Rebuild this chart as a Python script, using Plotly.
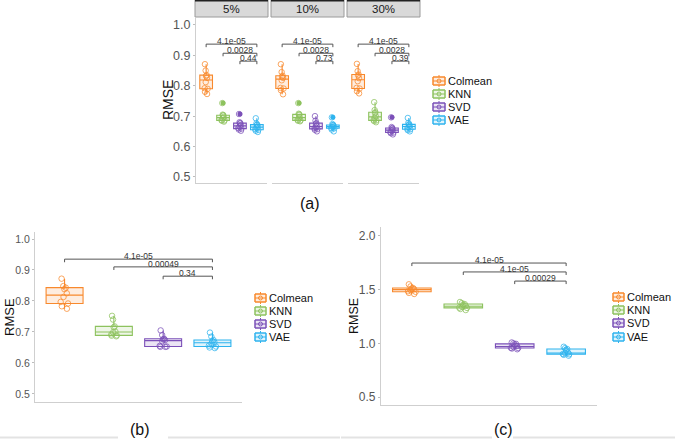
import plotly.graph_objects as go

# ---------------- data ----------------
methods = ["Colmean", "KNN", "SVD", "VAE"]
facets = ["5%", "10%", "30%"]
panel_labels = ["(a)", "(b)", "(c)"]

# panel (a), 5% missing
a5_colmean = [0.773, 0.780, 0.790, 0.792, 0.812, 0.826, 0.832, 0.835, 0.850, 0.871]
a5_knn = [0.682, 0.685, 0.686, 0.687, 0.693, 0.697, 0.702, 0.703, 0.705, 0.743]
a5_svd = [0.652, 0.656, 0.659, 0.661, 0.666, 0.670, 0.676, 0.677, 0.680, 0.707]
a5_vae = [0.648, 0.652, 0.655, 0.657, 0.662, 0.666, 0.671, 0.672, 0.676, 0.693]
# panel (a), 10% missing
a10_colmean = [0.772, 0.785, 0.791, 0.793, 0.818, 0.826, 0.830, 0.833, 0.845, 0.871]
a10_knn = [0.683, 0.685, 0.686, 0.688, 0.693, 0.697, 0.704, 0.706, 0.708, 0.743]
a10_svd = [0.650, 0.655, 0.658, 0.660, 0.664, 0.668, 0.675, 0.677, 0.685, 0.700]
a10_vae = [0.650, 0.656, 0.660, 0.661, 0.664, 0.667, 0.670, 0.671, 0.674, 0.696]
# panel (a), 30% missing
a30_colmean = [0.775, 0.782, 0.791, 0.793, 0.815, 0.825, 0.834, 0.837, 0.848, 0.872]
a30_knn = [0.680, 0.684, 0.686, 0.688, 0.695, 0.700, 0.710, 0.713, 0.720, 0.746]
a30_svd = [0.640, 0.644, 0.646, 0.648, 0.652, 0.656, 0.659, 0.661, 0.664, 0.696]
a30_vae = [0.650, 0.654, 0.657, 0.659, 0.664, 0.668, 0.672, 0.673, 0.678, 0.694]
# panel (b)
b_colmean = [0.775, 0.783, 0.792, 0.797, 0.813, 0.825, 0.838, 0.843, 0.848, 0.872]
b_knn = [0.686, 0.688, 0.689, 0.692, 0.699, 0.701, 0.715, 0.718, 0.740, 0.752]
b_svd = [0.652, 0.652, 0.653, 0.655, 0.670, 0.674, 0.676, 0.678, 0.690, 0.705]
b_vae = [0.648, 0.650, 0.653, 0.656, 0.663, 0.667, 0.671, 0.674, 0.685, 0.698]
# panel (c)
c_colmean = [1.460, 1.470, 1.480, 1.485, 1.495, 1.505, 1.510, 1.515, 1.530, 1.550]
c_knn = [1.310, 1.320, 1.330, 1.332, 1.340, 1.350, 1.362, 1.366, 1.375, 1.385]
c_svd = [0.945, 0.952, 0.956, 0.958, 0.965, 0.975, 0.990, 0.995, 1.000, 1.008]
c_vae = [0.885, 0.893, 0.898, 0.901, 0.907, 0.913, 0.940, 0.947, 0.955, 0.968]

comparisons = [(0, 3), (1, 3), (2, 3)]
pvals_a5 = ["4.1e-05", "0.0028", "0.44"]
pvals_a10 = ["4.1e-05", "0.0028", "0.73"]
pvals_a30 = ["4.1e-05", "0.0028", "0.39"]
pvals_b = ["4.1e-05", "0.00049", "0.34"]
pvals_c = ["4.1e-05", "4.1e-05", "0.00029"]

ticks_ab = [0.5, 0.6, 0.7, 0.8, 0.9, 1.0]
ticks_c = [0.5, 1.0, 1.5, 2.0]

# ---------------- style ----------------
W, H = 675, 439
FONT = "Liberation Sans, Arial, Helvetica, sans-serif"
colors = ["#F8892D", "#8DC25E", "#7B50B8", "#2EB3EE"]
AXC = "#cfcfcf"


def rgba(hexc, a):
    h = hexc.lstrip("#")
    r, g, b = int(h[0:2], 16), int(h[2:4], 16), int(h[4:6], 16)
    return f"rgba({r},{g},{b},{a})"


def PX(x):
    return x / W


def PY(y):
    return 1 - y / H


panels = [
    dict(name="a5", data=[a5_colmean, a5_knn, a5_svd, a5_vae], pv=pvals_a5,
         xd=(196, 267), yd=(183, 18), yr=[0.480, 1.023], ticks=ticks_ab, tfs=12.5,
         first=True, by=[0.937, 0.907, 0.881], tip=0.010, jit=0.3, strip=facets[0]),
    dict(name="a10", data=[a10_colmean, a10_knn, a10_svd, a10_vae], pv=pvals_a10,
         xd=(272, 343), yd=(183, 18), yr=[0.480, 1.023], ticks=ticks_ab, tfs=12.5,
         first=False, by=[0.937, 0.907, 0.881], tip=0.010, jit=0.3, strip=facets[1]),
    dict(name="a30", data=[a30_colmean, a30_knn, a30_svd, a30_vae], pv=pvals_a30,
         xd=(348, 419), yd=(183, 18), yr=[0.480, 1.023], ticks=ticks_ab, tfs=12.5,
         first=False, by=[0.937, 0.907, 0.881], tip=0.010, jit=0.3, strip=facets[2]),
    dict(name="b", data=[b_colmean, b_knn, b_svd, b_vae], pv=pvals_b,
         xd=(35, 242), yd=(402, 232), yr=[0.474, 1.0226], ticks=ticks_ab, tfs=10.5,
         first=True, by=[0.935, 0.910, 0.880], tip=0.010, jit=0.25, strip=None),
    dict(name="c", data=[c_colmean, c_knn, c_svd, c_vae], pv=pvals_c,
         xd=(381, 597), yd=(405, 227), yr=[0.4255, 2.0838], ticks=ticks_c, tfs=12,
         first=True, by=[1.748, 1.665, 1.580], tip=0.028, jit=0.25, strip=None),
]

fig = go.Figure()
shapes = []
annotations = []
layout = {}


def ptext(x, y, text, size, color="#111111", xanchor="center", angle=0):
    return dict(x=PX(x), y=PY(y), xref="paper", yref="paper", text=text, showarrow=False,
                xanchor=xanchor, yanchor="middle", textangle=angle,
                font=dict(family=FONT, size=size, color=color))


for i, p in enumerate(panels):
    k = "" if i == 0 else str(i + 1)
    xa, ya = "x" + k, "y" + k
    layout["xaxis" + k] = dict(
        domain=[PX(p["xd"][0]), PX(p["xd"][1])], range=[-0.6, 3.6], anchor=ya,
        showgrid=False, zeroline=False, showticklabels=False, ticks="",
        showline=True, linecolor=AXC, linewidth=1.3, fixedrange=True)
    layout["yaxis" + k] = dict(
        domain=[PY(p["yd"][0]), PY(p["yd"][1])], range=p["yr"], anchor=xa,
        showgrid=False, zeroline=False, showline=p["first"], linecolor=AXC, linewidth=1.3,
        showticklabels=p["first"], tickvals=p["ticks"],
        ticktext=[f"{t:.1f}" for t in p["ticks"]],
        ticks="outside" if p["first"] else "", ticklen=2, tickcolor="#bdbdbd",
        tickfont=dict(family=FONT, size=p["tfs"], color="#555555"), fixedrange=True)

    for m, vals in enumerate(p["data"]):
        col = colors[m]
        xs = [m] * len(vals)
        fig.add_trace(go.Box(
            x=xs, y=vals, xaxis=xa, yaxis=ya, width=0.75, whiskerwidth=0,
            boxpoints="outliers", line=dict(color=col, width=1.1),
            fillcolor=rgba(col, 0.15), marker=dict(color=col, size=5, opacity=1),
            showlegend=False, hoverinfo="skip"))
        fig.add_trace(go.Box(
            x=xs, y=vals, xaxis=xa, yaxis=ya, width=0.75, whiskerwidth=0,
            boxpoints="all", jitter=p["jit"], pointpos=0,
            line=dict(color="rgba(0,0,0,0)", width=0), fillcolor="rgba(0,0,0,0)",
            marker=dict(symbol="circle-open", size=5.5, color=rgba(col, 0.75),
                        line=dict(width=1, color=rgba(col, 0.75))),
            showlegend=False, hoverinfo="skip"))

    # significance brackets
    for (g1, g2), yb, lab in zip(comparisons, p["by"], p["pv"]):
        t = p["tip"]
        shapes.append(dict(
            type="path", xref=xa, yref=ya,
            path=f"M {g1},{yb - t} L {g1},{yb} L {g2},{yb} L {g2},{yb - t}",
            line=dict(color="#555555", width=1)))
        annotations.append(dict(
            x=(g1 + g2) / 2, y=yb, xref=xa, yref=ya, text=lab, showarrow=False,
            xanchor="center", yanchor="bottom", yshift=-4,
            font=dict(family=FONT, size=8.5, color="#333333")))

    # facet strip
    if p["strip"]:
        shapes.append(dict(type="rect", xref="paper", yref="paper",
                           x0=PX(p["xd"][0] - 1), x1=PX(p["xd"][1] + 1), y0=PY(17), y1=PY(0),
                           fillcolor="#d9d9d9", line=dict(color="#9a9a9a", width=1)))
        shapes.append(dict(type="line", xref="paper", yref="paper",
                           x0=PX(p["xd"][0] - 1), x1=PX(p["xd"][1] + 1), y0=PY(0.5), y1=PY(0.5),
                           line=dict(color="#222222", width=2)))
        annotations.append(ptext((p["xd"][0] + p["xd"][1]) / 2, 9, p["strip"], 11.5, "#1a1a1a"))

# y titles
for (xc, yc, fs) in [(168, 100, 14), (9, 317, 13), (354, 316, 12.5)]:
    annotations.append(ptext(xc, yc, "RMSE", fs, angle=-90))

# panel labels
for lab, (xc, yc) in zip(panel_labels, [(310, 203), (140, 429), (503, 429)]):
    annotations.append(ptext(xc, yc, lab, 16))

# legends (boxplot keys)
legend_pos = [(433, 445, [81, 94, 107, 120]),
              (255, 266, [298, 311, 324, 337]),
              (613, 624, [297, 310, 323, 337])]
for (x0, x1, ys) in legend_pos:
    for m, yc in enumerate(ys):
        col = colors[m]
        xm = (x0 + x1) / 2
        shapes.append(dict(type="line", xref="paper", yref="paper", x0=PX(xm), x1=PX(xm),
                           y0=PY(yc - 6), y1=PY(yc + 6), line=dict(color=col, width=1)))
        shapes.append(dict(type="rect", xref="paper", yref="paper", x0=PX(x0), x1=PX(x1),
                           y0=PY(yc + 4), y1=PY(yc - 4), fillcolor="rgba(255,255,255,1)",
                           line=dict(color=col, width=1)))
        shapes.append(dict(type="rect", xref="paper", yref="paper", x0=PX(x0), x1=PX(x1),
                           y0=PY(yc + 4), y1=PY(yc - 4), fillcolor=rgba(col, 0.15),
                           line=dict(color=col, width=1)))
        shapes.append(dict(type="line", xref="paper", yref="paper", x0=PX(x0), x1=PX(x1),
                           y0=PY(yc), y1=PY(yc), line=dict(color=col, width=1)))
        shapes.append(dict(type="circle", xref="paper", yref="paper", x0=PX(xm - 2),
                           x1=PX(xm + 2), y0=PY(yc + 2), y1=PY(yc - 2),
                           line=dict(color=col, width=1)))
        annotations.append(ptext(x1 + 1, yc, methods[m], 11, xanchor="left"))

# light grey frame remnants at the bottom
for (xa0, xa1) in [(0, 118), (168, 340), (341, 492), (513, 675)]:
    shapes.append(dict(type="line", xref="paper", yref="paper", x0=PX(xa0), x1=PX(xa1),
                       y0=PY(437.5), y1=PY(437.5), line=dict(color="#e3e3e3", width=2)))

fig.update_layout(
    width=W, height=H, margin=dict(l=0, r=0, t=0, b=0),
    paper_bgcolor="white", plot_bgcolor="white", boxmode="overlay",
    showlegend=False, shapes=shapes, annotations=annotations, **layout)

fig.write_html(
    "out.html",
    config={"displayModeBar": False},
    post_script="document.body.style.margin='0px';document.body.style.overflow='hidden';")
